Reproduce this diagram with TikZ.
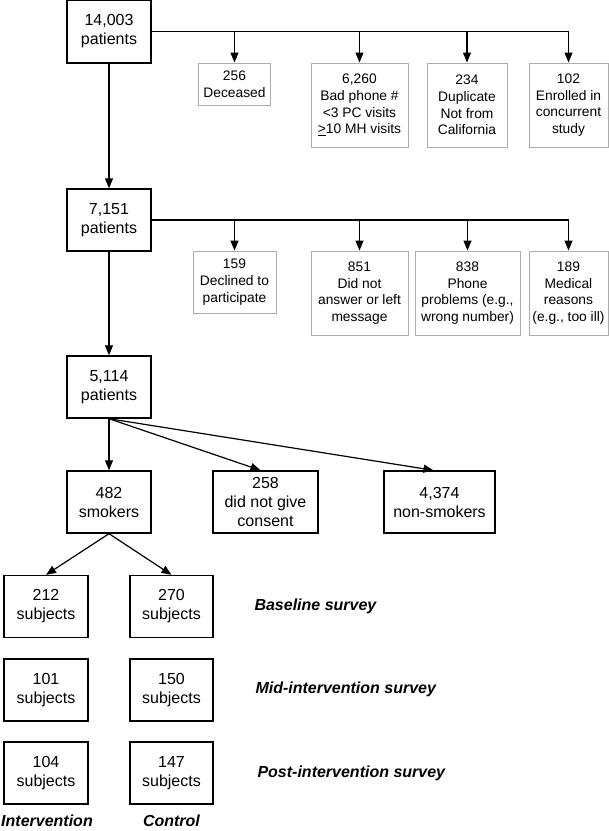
\documentclass[tikz,border=0pt]{standalone}
\usepackage{fontspec}
\setmainfont{Liberation Sans}
\usetikzlibrary{arrows.meta}

\tikzset{
  bigbox/.style={draw, line width=1.4pt, inner sep=0pt, align=center,
    minimum width=84pt, minimum height=62pt, font=\fontsize{16}{19}\selectfont},
  smallbox/.style={draw=gray!65, line width=1pt, inner sep=0pt, align=center,
    minimum height=84pt, font=\fontsize{13.8}{16.7}\selectfont},
  arr/.style={line width=1.2pt, -{Triangle[length=10pt,width=8pt]}},
  survey/.style={anchor=west, font=\fontsize{16}{19}\selectfont\bfseries\itshape},
  armlabel/.style={font=\fontsize{16}{19}\selectfont\bfseries\itshape},
}

\begin{document}
\begin{tikzpicture}[x=1pt, y=-1pt]
  \useasboundingbox (0,0) rectangle (609,831);

  \node[bigbox, minimum height=63pt] (p14003) at (109,31.5) {14,003\\patients};
  \node[smallbox, minimum width=72pt, minimum height=42pt] (dec) at (234.5,84) {256\\Deceased};
  \node[smallbox, minimum width=97pt] (bad) at (359.5,105) {6,260\\Bad phone \#\\<3 PC visits\\\underline{>}10 MH visits};
  \node[smallbox, minimum width=80pt] (dup) at (467,105) {234\\Duplicate\\Not from\\California};
  \node[smallbox, minimum width=79pt] (enr) at (568.5,105) {102\\Enrolled in\\concurrent\\study};

  \node[bigbox] (p7151) at (109,220) {7,151\\patients};
  \node[smallbox, minimum width=83pt, minimum height=62pt] (decl) at (234.5,282) {159\\Declined to\\participate};
  \node[smallbox, minimum width=97pt] (noans) at (359.5,293) {851\\Did not\\answer or left\\message};
  \node[smallbox, minimum width=105pt] (phone) at (467.5,293) {838\\Phone\\problems (e.g.,\\wrong number)};
  \node[smallbox, minimum width=79pt] (med) at (568.5,293) {189\\Medical\\reasons\\(e.g., too ill)};

  \node[bigbox] (p5114) at (109,387) {5,114\\patients};
  \node[bigbox] (smk) at (109,502) {482\\smokers};
  \node[bigbox, minimum width=105pt] (nocons) at (265.5,502) {258\\did not give\\consent};
  \node[bigbox, minimum width=111pt] (nonsmk) at (439.5,502) {4,374\\non-smokers};

  \node[bigbox] (int1) at (46,606.5) {212\\subjects};
  \node[bigbox, minimum width=83pt] (ctl1) at (171.5,606.5) {270\\subjects};
  \node[bigbox] (int2) at (46,690) {101\\subjects};
  \node[bigbox, minimum width=83pt] (ctl2) at (171.5,690) {150\\subjects};
  \node[bigbox] (int3) at (46,773) {104\\subjects};
  \node[bigbox, minimum width=83pt] (ctl3) at (171.5,773) {147\\subjects};

  \node[survey] (base) at (251,606) {Baseline survey};
  \node[survey] (mid) at (252,689) {Mid-intervention survey};
  \node[survey] (post) at (254,773) {Post-intervention survey};
  \node[armlabel] (intlab) at (47,821) {Intervention};
  \node[armlabel] (ctllab) at (171.5,821) {Control};

  \draw[arr] (p14003.east) -| (enr.north);
  \foreach \n in {dec,bad,dup}
    \draw[arr] (p14003.east -| \n.north) -- (\n.north);
  \draw[arr] (p14003) -- (p7151);

  \draw[arr] (p7151.east) -| (med.north);
  \foreach \n in {decl,noans,phone}
    \draw[arr] (p7151.east -| \n.north) -- (\n.north);
  \draw[arr] (p7151) -- (p5114);

  \draw[arr] (p5114) -- (smk);
  \draw[arr] (p5114.south) -- ([xshift=-5pt]nocons.north);
  \draw[arr] (p5114.south) -- ([xshift=-6pt]nonsmk.north);

  \draw[arr] (smk.south) -- (int1.north);
  \draw[arr] (smk.south) -- (ctl1.north);
\end{tikzpicture}
\end{document}
